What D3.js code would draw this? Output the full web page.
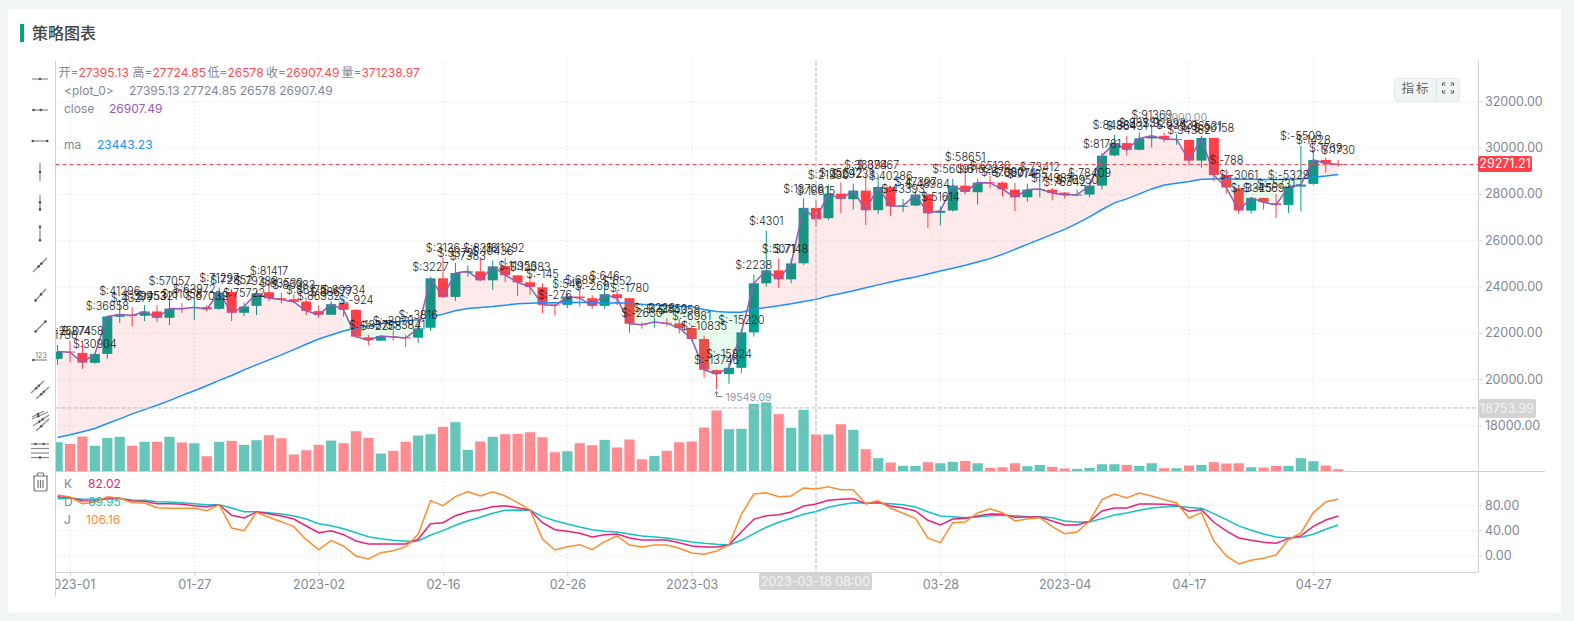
<!DOCTYPE html>
<html>
<head>
<meta charset="utf-8">
<title>策略图表</title>
<script src="https://cdn.jsdelivr.net/npm/d3@7/dist/d3.min.js"></script>
<style>
  html, body { margin: 0; padding: 0; background: #f1f5f6; }
  svg { display: block; }
  text { font-family: Inter, "Noto Sans CJK SC", sans-serif; }
  .tick text { fill: #7f8894; font-size: 12.5px; }
</style>
</head>
<body>
<svg id="chart" width="1574" height="621"></svg>
<script>
var opens = [20874,21189,21132,20702,21089,22692,22778,22735,22922,22649,23065,23065,23108,23036,23766,22864,23165,23752,23494,23451,
  23351,22936,22778,23280,22993,21805,21661,21848,21805,21790,22219,24353,23551,24597,24654,24267,24883,24482,24181,23967,
  23222,23208,23566,23494,23165,23666,23494,22377,22420,22434,22406,22205,21733,20387,20215,20487,22019,24138,24697,24310,
  25003,27395.13,26950,28014,27770,28143,27297,28301,27469,27498,27971,27182,27283,28358,28071,28502,28487,28186,27856,28186,
  28186,28057,27957,27971,28358,29663,30194,29907,30395,30509,30337,30331,29439,30417,28820,28245,27280,27827,27597,27525,
  28316,28432,29468,29295];
var highs = [21475,21661,21661,21117,22735,23408,23108,23194,23194,23809,23280,23480,23194,23953,23881,23308,23809,24239,23738,23666,
  23451,23194,23365,23451,23022,21919,21891,22091,21905,22377,24425,25241,25026,24912,25241,25126,25241,24482,24453,24138,
  23222,23694,23881,23623,24052,23809,23508,22449,22663,22635,22592,22334,21876,20401,20687,22162,24525,26415,25212,25198,
  27813,27724.85,28401,28502,28444,28831,28831,28358,27785,28114,28000,27469,28645,29190,28645,28788,28545,28473,28444,28731,
  28258,28086,28186,28502,29764,30552,30509,30653,31000,30653,30581,30331,30504,30417,29065,28388,27856,27827,28000,28403,
  30072,29899,29583,29468];
var lows = [20616,20731,20444,20659,20874,22420,22277,22506,22478,22334,22864,22549,22922,22993,22506,22721,22764,23380,23265,23280,
  22764,22649,22764,22692,21790,21475,21647,21661,21389,21561,22091,23523,23379,24425,24253,23852,24196,23594,23637,22850,
  22735,23064,23122,23036,23036,23193,22005,22177,22219,22291,21962,21661,20057,19549.09,19799,20272,21833,23995,23938,24138,
  24931,26578,26867,27168,27326,26652,27125,27039,27211,27469,26523,26637,27240,27985,27541,28244,27885,27254,27670,27842,
  27727,27813,27899,27856,28186,29620,29663,29878,30007,30237,30122,29252,29137,28532,28000,27137,27137,27324,26964,27180,
  27237,28388,28921,29180];
var closes = [21189,21160,20716,21089,22707,22793,22750,22922,22649,23050,23036,23108,23022,23738,22864,23136,23709,23494,23437,23337,
  22950,22778,23237,22993,21833,21676,21862,21819,21776,22191,24353,23551,24582,24654,24267,24869,24496,24181,23981,23208,
  23179,23566,23508,23165,23666,23494,22391,22348,22463,22406,22205,21733,20401,20215,20487,22019,24138,24697,24310,24998,
  27395,26907.49,28014,27785,28143,27297,28301,27469,27484,27971,27168,27268,28358,28086,28487,28473,28201,27856,28186,28215,
  28043,27957,27971,28358,29649,30194,29907,30395,30509,30366,30366,29439,30417,28820,28273,27280,27827,27640,27525,28302,
  28403,29468,29324,29271.21];
var maValues = [17480,17595,17723,17867,18081,18282,18497,18683,18869,19069,19299,19499,19714,19943,20158,20401,20616,20831,21046,21275,
  21504,21733,21905,22077,22206,22291,22392,22463,22521,22564,22678,22807,22950,23050,23093,23136,23193,23251,23279,23293,
  23293,23308,23308,23308,23279,23293,23279,23236,23208,23179,23150,23122,23007,22921,22893,22893,23021,23093,23165,23251,
  23351,23443.23,23590,23700,23820,23950,24070,24190,24314,24415,24544,24673,24788,24917,25060,25203,25390,25605,25820,26035,
  26250,26465,26724,27010,27326,27613,27785,28000,28215,28387,28460,28532,28633,28647,28647,28633,28633,28619,28619,28633,
  28647,28719,28777,28835];
// volume in thousands
var volumes = [293,276,351,256,337,348,256,297,297,348,290,283,150,297,307,266,314,365,334,167,
  211,266,310,283,406,337,177,205,297,361,375,450,498,215,300,348,375,378,395,344,
  191,201,283,262,317,239,320,119,153,205,293,300,443,617,426,430,685,699,580,440,
  624,371.23897,372,477,419,222,130,85,51,51,89,78,92,102,78,31,37,78,48,61,
  41,24,20,31,68,68,61,51,78,27,27,55,61,89,75,78,37,34,51,51,
  130,99,55,17];
var kValues = [93.8,92.2,87.4,86.9,91.2,91.2,86.9,86.4,82.6,82.6,81.6,79.4,77.8,81.0,64.0,59.7,69.3,66.6,62.9,58.1,
  46.9,36.2,39.4,33.0,22.9,18.1,18.1,18.1,18.1,25.6,50.6,52.2,63.4,69.8,73.0,77.8,79.4,76.2,72.0,52.2,
  41.0,38.4,35.2,29.3,33.0,34.1,27.7,24.5,24.5,24.5,20.2,14.9,13.3,13.3,16.5,37.8,57.6,63.4,65.0,69.3,
  78.9,82.02,88.0,89.6,90.6,82.6,84.8,78.9,75.7,70.9,56.0,48.5,58.1,59.2,62.9,66.1,65.6,60.8,61.3,61.3,
  54.9,48.5,48.5,54.4,70.9,75.7,75.7,82.1,82.1,81.6,80.0,70.4,73.1,52.8,38.9,27.7,24.0,20.8,19.2,26.7,
  31.0,46.4,56.5,62.9];
var dValues = [90.6,91.7,89.6,89.6,90.1,90.6,88.5,88.0,85.8,85.3,84.2,82.6,81.0,81.0,75.7,69.8,69.8,68.2,66.1,62.9,
  58.1,50.6,47.4,42.6,36.2,29.8,26.6,24.0,22.4,22.9,32.5,39.4,48.0,55.4,60.8,67.2,72.0,72.5,72.0,61.8,
  55.4,50.1,45.3,41.0,38.4,37.3,34.1,30.9,29.3,27.7,24.5,21.3,19.2,17.6,16.5,24.0,34.6,44.8,52.8,59.2,
  65.6,69.95,76.8,81.0,84.2,83.7,83.7,82.6,81.0,77.3,69.8,62.9,61.8,60.2,61.3,63.4,64.0,63.4,61.8,61.8,
  60.2,54.9,53.3,53.3,58.7,64.5,67.7,72.0,75.7,77.3,78.9,76.3,75.2,66.7,57.1,47.0,40.0,34.1,29.3,27.7,
  28.8,33.6,41.6,48.5];
var jValues = [96.5,93.3,82.6,84.8,93.8,91.2,84.2,83.7,76.2,75.2,75.2,75.2,71.4,81.0,43.7,39.4,68.8,60.8,53.8,45.8,
  25.0,9.0,23.4,14.9,-1.1,-5.9,4.2,7.4,13.8,33.6,87.4,79.4,93.8,101.8,94.9,101.8,94.9,84.2,72.5,26.1,
  8.5,13.8,17.0,9.0,21.8,30.9,16.5,13.3,16.5,16.5,11.2,3.7,1.6,6.9,16.5,65.6,98.1,100.2,93.8,94.9,
  107.7,106.16,109.8,105.0,105.0,82.6,87.4,75.2,67.2,59.2,27.7,20.2,52.2,53.3,67.7,74.6,68.2,54.9,58.1,60.2,
  45.8,34.6,37.3,54.9,89.1,98.1,91.7,99.7,94.9,89.1,83.7,59.7,68.3,22.9,-1.1,-13.8,-8.0,-4.8,0.5,25.1,
  35.7,68.3,85.3,90.1];
var barLabels = ["$:21730","$:25074","$:27458","$:30904","$:36858","$:41296","$:43277","$:39953","$:45321","$:57057",
  "$:61058","$:63972","$:67032","$:71297","$:72852","$:75722","$:79288","$:81417","$:83539","$:85983",
  "$:86175","$:86932","$:88677","$:89934","$:-924","$:-1837","$:-2258","$:-3070","$:-3841","$:-3816",
  "$:3227","$:3136","$:5379","$:7383","$:8218","$:10436","$:11292","$:11956","$:12383","$:-145",
  "$:-276","$:546","$:689","$:-269","$:646","$:652","$:-1780","$:-2630","$:-3228","$:-3850",
  "$:-4358","$:-6981","$:-10835","$:-13746","$:-15824","$:-15220","$:2238","$:4301","$:5071","$:7148",
  "$:13706","$:18815","$:21930","$:25642","$:29233","$:36894","$:37867","$:40286","$:43393","$:47397",
  "$:48984","$:51614","$:56091","$:58651","$:61622","$:65136","$:67080","$:69074","$:71485","$:73412",
  "$:74983","$:76342","$:76950","$:78409","$:81781","$:84384","$:86431","$:88231","$:91369","$:92898",
  "$:93531","$:94362","$:96531","$:96158","$:-788","$:-3061","$:-3325","$:-4569","$:-5731","$:-5329",
  "$:-5508","$:1428","$:1769","$:1730"];

var tickIndices = [1,11,21,31,41,51,61,71,81,91,101];
// the tick under the crosshair has its label replaced by the crosshair label
var tickLabels = ["2023-01","01-27","2023-02","02-16","02-26","2023-03","","03-28","2023-04","04-17","04-27"];
var priceTicks = [18000,20000,22000,24000,26000,28000,30000,32000];
var kdjTicks = [0,40,80];

var lastPrice = 29271.21, crossPrice = 18753.99, crossIndex = 61, crossLabel = "2023-03-18 08:00";
var highMark = 31000, highMarkIndex = 88, lowMark = 19549.09, lowMarkIndex = 53;

var UP = "#00a08c", DOWN = "#ff4048";
var left = 55.5, right = 1478, paneTop = 61, paneBottom = 471, axisBottom = 572;

var svg = d3.select("#chart");
var indices = d3.range(closes.length);

var x = d3.scalePoint().domain(indices).range([57.57, 1338.2]);
var y = d3.scaleLinear().domain([18000, 32000]).range([425.4, 101.3]);
var yVol = d3.scaleLinear().domain([0, 700]).range([paneBottom, 402.5]);
var yKdj = d3.scaleLinear().domain([0, 80]).range([555.3, 505.3]);

// card and title
svg.append("rect").attr("x", 8).attr("y", 9).attr("width", 1553).attr("height", 603.5).attr("fill", "#fff");
svg.append("rect").attr("x", 20).attr("y", 24).attr("width", 4).attr("height", 18).attr("fill", "#05a672");
svg.append("text").attr("x", 32).attr("y", 39).attr("fill", "#444").attr("font-size", 16).attr("font-weight", 500)
  .style("font-family", '"Noto Sans CJK SC"').text("策略图表");

var defs = svg.append("defs");
defs.append("clipPath").attr("id", "mainClip").append("rect")
  .attr("x", left).attr("y", paneTop).attr("width", right - left).attr("height", paneBottom - paneTop);
defs.append("clipPath").attr("id", "kdjClip").append("rect")
  .attr("x", left).attr("y", paneBottom).attr("width", right - left).attr("height", axisBottom - paneBottom);
defs.append("clipPath").attr("id", "timeClip").append("rect")
  .attr("x", left).attr("y", axisBottom).attr("width", right - left).attr("height", 30);

// grid
var grid = svg.append("g").attr("stroke", "#e8eaec").attr("stroke-dasharray", "2,2").attr("stroke-width", 1);
priceTicks.forEach(function (d) {
  grid.append("line").attr("x1", left).attr("x2", right).attr("y1", y(d) + .5).attr("y2", y(d) + .5);
});
kdjTicks.forEach(function (d) {
  grid.append("line").attr("x1", left).attr("x2", right).attr("y1", yKdj(d) + .5).attr("y2", yKdj(d) + .5);
});
tickIndices.forEach(function (i) {
  grid.append("line").attr("x1", x(i)).attr("x2", x(i)).attr("y1", paneTop).attr("y2", axisBottom);
});

var main = svg.append("g").attr("clip-path", "url(#mainClip)");

// volume
main.selectAll(".vol").data(indices).enter().append("rect")
  .attr("x", function (i) { return x(i) - 5; })
  .attr("width", 10)
  .attr("y", function (i) { return yVol(volumes[i]); })
  .attr("height", function (i) { return paneBottom - yVol(volumes[i]); })
  .attr("fill", function (i) { return closes[i] >= opens[i] ? UP : DOWN; })
  .attr("fill-opacity", 0.6)
  .attr("stroke", function (i) { return closes[i] >= opens[i] ? UP : DOWN; })
  .attr("stroke-opacity", 0.12);

// candles
main.selectAll(".wick").data(indices).enter().append("line")
  .attr("x1", function (i) { return x(i); }).attr("x2", function (i) { return x(i); })
  .attr("y1", function (i) { return y(highs[i]); }).attr("y2", function (i) { return y(lows[i]); })
  .attr("stroke", function (i) { return closes[i] >= opens[i] ? UP : DOWN; })
  .attr("stroke-width", 1);
main.selectAll(".body").data(indices).enter().append("rect")
  .attr("x", function (i) { return x(i) - 5; })
  .attr("width", 10)
  .attr("y", function (i) { return y(Math.max(opens[i], closes[i])); })
  .attr("height", function (i) { return Math.max(1, Math.abs(y(opens[i]) - y(closes[i]))); })
  .attr("fill", function (i) { return closes[i] >= opens[i] ? UP : DOWN; });

// fill between close and ma, painted over the candles
var fillArea = d3.area().x(function (i) { return x(i); })
  .y0(function (i) { return y(maValues[i]); })
  .y1(function (i) { return y(closes[i]); });
indices.slice(1).forEach(function (i) {
  main.append("path").attr("d", fillArea([i - 1, i]))
    .attr("fill", closes[i] >= maValues[i] ? "rgba(240,30,40,0.095)" : "rgba(30,220,70,0.10)");
});

// lines
function drawLine(parent, values, scale, color, width) {
  var line = d3.line().x(function (i) { return x(i); }).y(function (i) { return scale(values[i]); });
  parent.append("path").attr("d", line(indices)).attr("fill", "none")
    .attr("stroke", color).attr("stroke-width", width);
}
drawLine(main, maValues, y, "#1890ff", 1.5);
drawLine(main, closes, y, "#9b59b6", 1.5);

// text marks above each bar
main.selectAll(".barLabel").data(indices).enter().append("text")
  .attr("x", function (i) { return x(i); })
  .attr("y", function (i) { return y(highs[i]) - 5.5; })
  .attr("text-anchor", "middle").attr("font-size", 11).attr("font-weight", 300).attr("fill", "#1c1c1c")
  .text(function (i) { return barLabels[i]; });

// high and low marks
function drawMark(i, value, dir) {
  var mx = x(i), my = y(value);
  var p = d3.path();
  p.moveTo(mx, my + dir * 2); p.lineTo(mx, my + dir * 7); p.lineTo(mx + 6, my + dir * 7);
  p.moveTo(mx - 2, my + dir * 4); p.lineTo(mx, my + dir * 2); p.lineTo(mx + 2, my + dir * 4);
  main.append("path").attr("d", p.toString()).attr("fill", "none").attr("stroke", "#76808f");
  main.append("text").attr("x", mx + 9).attr("y", my + dir * 7 + 4).attr("font-size", 10.5)
    .attr("fill", "#8f97a3").text(d3.format(".2f")(value));
}
drawMark(highMarkIndex, highMark, -1);
drawMark(lowMarkIndex, lowMark, 1);

// kdj
var kdj = svg.append("g").attr("clip-path", "url(#kdjClip)");
drawLine(kdj, dValues, yKdj, "#13c2c2", 1.5);
drawLine(kdj, kValues, yKdj, "#ed2277", 1.5);
drawLine(kdj, jValues, yKdj, "#ff8d2f", 1.5);

// axes
var axisColor = "#cfd3d7";
function styleAxis(g) {
  g.select(".domain").remove();
  g.selectAll(".tick line").attr("stroke", axisColor);
}
svg.append("g").attr("transform", "translate(" + right + ",0)")
  .call(d3.axisRight(y).tickValues(priceTicks).tickSize(4).tickPadding(3).tickFormat(d3.format(".2f")))
  .call(styleAxis);
svg.append("g").attr("transform", "translate(" + right + ",0)")
  .call(d3.axisRight(yKdj).tickValues(kdjTicks).tickSize(4).tickPadding(3).tickFormat(d3.format(".2f")))
  .call(styleAxis);
svg.append("g").attr("clip-path", "url(#timeClip)").append("g").attr("transform", "translate(0," + axisBottom + ")")
  .call(d3.axisBottom(x).tickValues(tickIndices).tickSize(4).tickPadding(4)
    .tickFormat(function (i) { return tickLabels[tickIndices.indexOf(i)]; }))
  .call(styleAxis);
var frame = svg.append("g").attr("stroke", axisColor).attr("stroke-width", 1);
frame.append("line").attr("x1", left).attr("x2", left).attr("y1", paneTop).attr("y2", 597);
frame.append("line").attr("x1", right + .5).attr("x2", right + .5).attr("y1", paneTop).attr("y2", axisBottom);
frame.append("line").attr("x1", left).attr("x2", 1545).attr("y1", paneBottom + .5).attr("y2", paneBottom + .5);
frame.append("line").attr("x1", left).attr("x2", right).attr("y1", axisBottom + .5).attr("y2", axisBottom + .5);

// last price line
svg.append("line").attr("x1", left).attr("x2", right).attr("y1", y(lastPrice)).attr("y2", y(lastPrice))
  .attr("stroke", "#ff4048").attr("stroke-dasharray", "4,3");
svg.append("rect").attr("x", right).attr("y", y(lastPrice) - 8.5).attr("width", 54).attr("height", 16).attr("rx", 2).attr("fill", "#ff4048");
svg.append("text").attr("x", right + 27).attr("y", y(lastPrice) + 4).attr("text-anchor", "middle")
  .attr("font-size", 12.5).attr("fill", "#fff").text(d3.format(".2f")(lastPrice));

// crosshair
var cross = svg.append("g").attr("stroke", "#b9bcc0").attr("stroke-dasharray", "4,2");
cross.append("line").attr("x1", x(crossIndex)).attr("x2", x(crossIndex)).attr("y1", paneTop).attr("y2", axisBottom);
cross.append("line").attr("x1", left).attr("x2", right).attr("y1", y(crossPrice)).attr("y2", y(crossPrice));
svg.append("rect").attr("x", right + 1).attr("y", y(crossPrice) - 9).attr("width", 57).attr("height", 19).attr("rx", 2).attr("fill", "#d4d4d4");
svg.append("text").attr("x", right + 29).attr("y", y(crossPrice) + 5).attr("text-anchor", "middle")
  .attr("font-size", 12.5).attr("fill", "#f2f2f2").text(d3.format(".2f")(crossPrice));
svg.append("rect").attr("x", 759).attr("y", 573).attr("width", 113).attr("height", 17).attr("rx", 2).attr("fill", "#d4d4d4");
svg.append("text").attr("x", 815.5).attr("y", 586).attr("text-anchor", "middle")
  .attr("font-size", 12.5).attr("fill", "#f2f2f2").text(crossLabel);

// legend
var GREY = "#7f8894";
function legendRow(py, parts) {
  var t = svg.append("text").attr("y", py).attr("font-size", 12);
  parts.forEach(function (p) {
    t.append("tspan").attr("x", p[2]).attr("fill", p[1]).text(p[0]);
  });
}
var ohlc = [opens[crossIndex], highs[crossIndex], lows[crossIndex], closes[crossIndex]];
var ohlcText = svg.append("text").attr("y", 77).attr("font-size", 12);
[["开", ohlc[0], 58.5], ["高", ohlc[1], 132.5], ["低", ohlc[2], 207.5], ["收", ohlc[3], 266], ["量", volumes[crossIndex] * 1000, 341.5]].forEach(function (d) {
  ohlcText.append("tspan").attr("x", d[2]).attr("fill", GREY).text(d[0] + "=");
  ohlcText.append("tspan").attr("fill", "#ff4d55").text(+d[1].toFixed(2));
});
legendRow(95, [["<plot_0>", GREY, 64], [ohlc.join(" "), GREY, 129]]);
legendRow(113, [["close", GREY, 64], [closes[crossIndex], "#9b59c6", 109]]);
legendRow(149, [["ma", GREY, 64], [maValues[crossIndex], "#1890ff", 97]]);
legendRow(488, [["K", GREY, 64], [kValues[crossIndex], "#ed2277", 88]]);
legendRow(506, [["D", GREY, 64], [dValues[crossIndex], "#13c2c2", 88]]);
legendRow(524, [["J", GREY, 64], [jValues[crossIndex], "#ff8d2f", 86]]);

// indicator button
svg.append("rect").attr("x", 1394.5).attr("y", 78.5).attr("width", 65).attr("height", 23).attr("rx", 3)
  .attr("fill", "#f1f4f5").attr("stroke", "#e6e9ea");
svg.append("line").attr("x1", 1436.5).attr("x2", 1436.5).attr("y1", 79).attr("y2", 101).attr("stroke", "#e2e5e6");
svg.append("text").attr("x", 1416).attr("y", 93).attr("text-anchor", "middle").attr("font-size", 12.5)
  .attr("letter-spacing", 2).attr("fill", "#666").style("font-family", '"Noto Sans CJK SC"').text("指标");
var expand = d3.path();
[[-1,-1],[1,-1],[-1,1],[1,1]].forEach(function (c) {
  var cx = 1448 + c[0] * 5.5, cy = 88 + c[1] * 5;
  expand.moveTo(cx, cy); expand.lineTo(cx - c[0] * 3, cy - c[1] * 3);
  expand.moveTo(cx, cy); expand.lineTo(cx - c[0] * 3, cy);
  expand.moveTo(cx, cy); expand.lineTo(cx, cy - c[1] * 3);
});
svg.append("path").attr("d", expand.toString()).attr("fill", "none").attr("stroke", "#666");

// drawing toolbar
var tools = svg.append("g").attr("stroke", "#8a8a8a").attr("fill", "#555").attr("stroke-width", 1.2);
function tool(x1, y1, x2, y2, dots) {
  tools.append("line").attr("x1", x1).attr("y1", y1).attr("x2", x2).attr("y2", y2);
  dots.forEach(function (t) {
    tools.append("circle").attr("cx", x1 + (x2 - x1) * t).attr("cy", y1 + (y2 - y1) * t).attr("r", 1.3).attr("stroke", "none");
  });
}
tool(32, 79, 48, 79, [.5]);
tool(32, 110, 48, 110, [.1, .55]);
tool(32, 141, 48, 141, [.05, .95]);
tool(40, 163, 40, 181, [.5]);
tool(40, 195, 40, 211, [.45, .9]);
tool(40, 226, 40, 241, [.05, .95]);
tool(33, 272, 47, 258, [.4, .6]);
tool(35, 301, 46, 289, [.05, .55]);
tool(35, 332, 46, 321, [.05, .95]);
tool(33, 360, 47, 360, [.02]);
tools.append("text").attr("x", 41).attr("y", 358).attr("text-anchor", "middle").attr("font-size", 7)
  .attr("stroke", "none").attr("fill", "#777").text("123");
tool(31, 393, 44, 381, [.4, .6]);
tool(36, 399, 49, 387, [.4, .6]);
tool(32, 417, 44, 411, [.5]);
tool(32, 419, 48, 412, [.4]);
tool(33, 426, 49, 415, [.4, .6]);
tool(36, 431, 49, 419, [.4]);
tool(31, 444, 49, 444, [.25, .7]);
tool(31, 448.5, 49, 448.5, []);
tool(31, 453, 49, 453, []);
tool(31, 457.5, 49, 457.5, [.5]);
var trash = d3.path();
trash.moveTo(33, 476); trash.lineTo(48, 476);
trash.moveTo(37, 476); trash.lineTo(38, 473); trash.lineTo(43, 473); trash.lineTo(44, 476);
trash.moveTo(34, 476); trash.lineTo(34, 489); trash.quadraticCurveTo(34, 491, 36, 491);
trash.lineTo(45, 491); trash.quadraticCurveTo(47, 491, 47, 489); trash.lineTo(47, 476);
trash.moveTo(38, 480); trash.lineTo(38, 488);
trash.moveTo(40.5, 480); trash.lineTo(40.5, 488);
trash.moveTo(43, 480); trash.lineTo(43, 488);
tools.append("path").attr("d", trash.toString()).attr("fill", "none").attr("stroke", "#777");
</script>
</body>
</html>
